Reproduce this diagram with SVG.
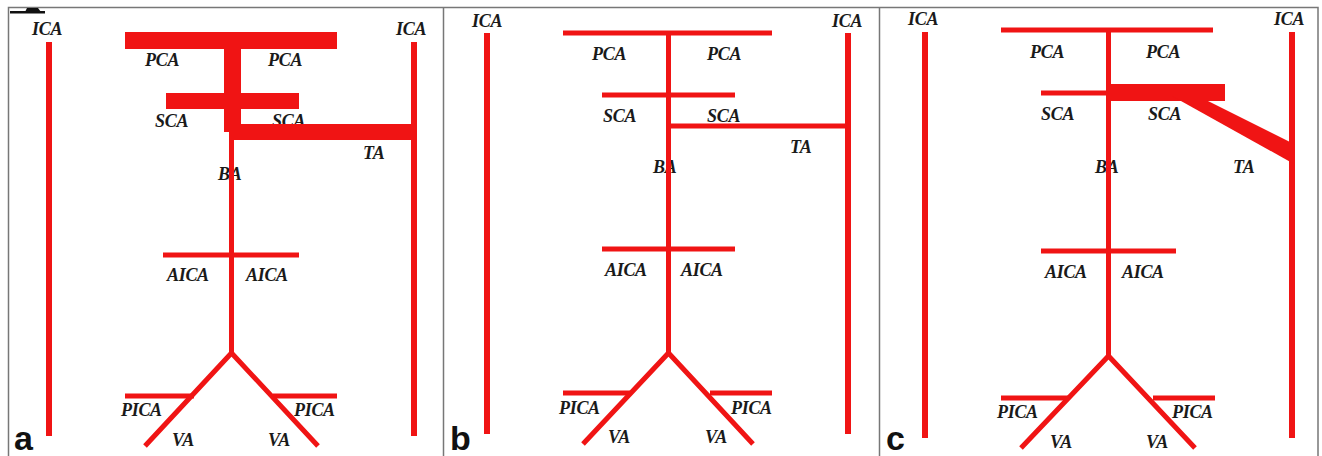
<svg xmlns="http://www.w3.org/2000/svg" width="1322" height="456" viewBox="0 0 1322 456">
<style>
.v{stroke:#f01414;stroke-width:5;fill:none;stroke-linecap:butt}
.ica{stroke:#f01414;stroke-width:6;fill:none}
.thick{fill:#f01414}
.lb{font-family:"Liberation Serif","Times New Roman",serif;font-style:italic;font-weight:bold;font-size:18px;fill:#1a1a1a;letter-spacing:-0.3px}
.pl{font-family:"Liberation Sans",Arial,sans-serif;font-weight:bold;font-size:34px;fill:#111}
.bd{stroke:#777;stroke-width:1.5;fill:none}
</style>
<rect width="1322" height="456" fill="#fff"/>
<g id="frames">
<path class="bd" d="M8.5,456 V7.5 H1318 V456 M443.5,7.5 V456 M879.5,7.5 V456"/>
<path d="M10,11 H45 V13.5 H10 Z M27,8 H38 L41,12 H25 Z" fill="#111"/>
</g>
<g id="panel-a">
<g id="a-labels">
<text class="lb" x="32" y="35">ICA</text>
<text class="lb" x="396" y="35">ICA</text>
<text class="lb" x="145" y="66">PCA</text>
<text class="lb" x="268" y="66">PCA</text>
<text class="lb" x="155" y="127">SCA</text>
<text class="lb" x="272" y="127">SCA</text>
<text class="lb" x="363" y="159">TA</text>
<text class="lb" x="218" y="180">BA</text>
<text class="lb" x="167" y="281">AICA</text>
<text class="lb" x="246" y="281">AICA</text>
<text class="lb" x="121" y="416">PICA</text>
<text class="lb" x="294" y="416">PICA</text>
<text class="lb" x="172" y="446">VA</text>
<text class="lb" x="268" y="446">VA</text>
</g>
<g id="a-vessels">
<line class="ica" x1="49" y1="42" x2="49" y2="436"/>
<line class="ica" x1="414" y1="42" x2="414" y2="436"/>
<rect class="thick" x="125" y="32" width="212" height="17"/>
<rect class="thick" x="224" y="45" width="17" height="87"/>
<rect class="thick" x="166" y="93" width="133" height="16"/>
<rect class="thick" x="232" y="124" width="185" height="16"/>
<line class="v" x1="231.5" y1="130" x2="231.5" y2="354"/>
<line class="v" x1="163" y1="255" x2="299" y2="255"/>
<polyline class="v" points="145,446 231.5,353 318,446"/>
<line class="v" x1="125" y1="396" x2="194" y2="396"/>
<line class="v" x1="273" y1="396" x2="337" y2="396"/>
</g>
<text class="pl" x="14" y="450">a</text>
</g>
<g id="panel-b">
<g id="b-labels">
<text class="lb" x="472" y="27">ICA</text>
<text class="lb" x="832" y="27">ICA</text>
<text class="lb" x="592" y="60">PCA</text>
<text class="lb" x="707" y="60">PCA</text>
<text class="lb" x="603" y="122">SCA</text>
<text class="lb" x="707" y="122">SCA</text>
<text class="lb" x="790" y="153">TA</text>
<text class="lb" x="653" y="173">BA</text>
<text class="lb" x="605" y="276">AICA</text>
<text class="lb" x="681" y="276">AICA</text>
<text class="lb" x="559" y="414">PICA</text>
<text class="lb" x="731" y="414">PICA</text>
<text class="lb" x="608" y="443">VA</text>
<text class="lb" x="705" y="443">VA</text>
</g>
<g id="b-vessels">
<line class="ica" x1="487" y1="33" x2="487" y2="434"/>
<line class="ica" x1="848" y1="33" x2="848" y2="434"/>
<line class="v" x1="563" y1="33" x2="772" y2="33"/>
<line class="v" x1="668.5" y1="33" x2="668.5" y2="354"/>
<line class="v" x1="602" y1="95" x2="735" y2="95"/>
<line class="v" x1="668" y1="126" x2="848" y2="126"/>
<line class="v" x1="602" y1="249" x2="735" y2="249"/>
<polyline class="v" points="583,444 668.5,353 753,444"/>
<line class="v" x1="563" y1="393" x2="630" y2="393"/>
<line class="v" x1="710" y1="393" x2="772" y2="393"/>
</g>
<text class="pl" x="450" y="450">b</text>
</g>
<g id="panel-c">
<g id="c-labels">
<text class="lb" x="908" y="25">ICA</text>
<text class="lb" x="1274" y="25">ICA</text>
<text class="lb" x="1030" y="58">PCA</text>
<text class="lb" x="1146" y="58">PCA</text>
<text class="lb" x="1041" y="120">SCA</text>
<text class="lb" x="1148" y="120">SCA</text>
<text class="lb" x="1233" y="173">TA</text>
<text class="lb" x="1095" y="173">BA</text>
<text class="lb" x="1045" y="278">AICA</text>
<text class="lb" x="1122" y="278">AICA</text>
<text class="lb" x="997" y="418">PICA</text>
<text class="lb" x="1172" y="418">PICA</text>
<text class="lb" x="1050" y="448">VA</text>
<text class="lb" x="1146" y="448">VA</text>
</g>
<g id="c-vessels">
<line class="ica" x1="925" y1="32" x2="925" y2="438"/>
<line class="ica" x1="1292" y1="32" x2="1292" y2="438"/>
<line class="v" x1="1001" y1="30" x2="1213" y2="30"/>
<line class="v" x1="1108.5" y1="30" x2="1108.5" y2="357"/>
<line class="v" x1="1041" y1="93" x2="1110" y2="93"/>
<rect class="thick" x="1110" y="84" width="115" height="17"/>
<polygon class="thick" points="1172,96 1198,96 1294,144 1294,164"/>
<line class="v" x1="1041" y1="251" x2="1176" y2="251"/>
<polyline class="v" points="1021,448 1108.5,356 1195,448"/>
<line class="v" x1="1001" y1="398" x2="1068" y2="398"/>
<line class="v" x1="1153" y1="398" x2="1215" y2="398"/>
</g>
<text class="pl" x="886" y="450">c</text>
</g>
</svg>
